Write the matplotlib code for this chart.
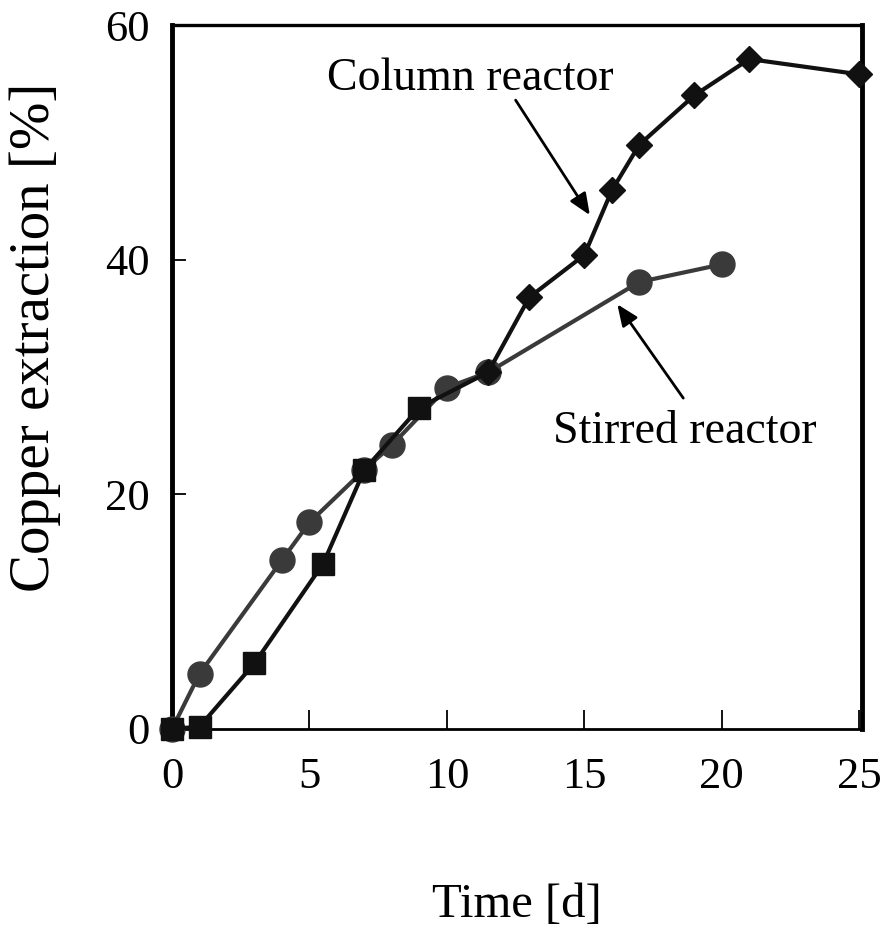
import matplotlib
matplotlib.use("Agg")
import matplotlib.pyplot as plt

# Data
stirred_x = [0, 1, 4, 5, 7, 8, 10, 11.5, 17, 20]
stirred_y = [0, 4.7, 14.4, 17.6, 22.1, 24.2, 29.1, 30.4, 38.1, 39.6]

col_sq_x = [0, 1, 3, 5.5, 7, 9]
col_sq_y = [0, 0.2, 5.6, 14.1, 22.1, 27.4]
col_di_x = [11.5, 13, 15, 16, 17, 19, 21, 25]
col_di_y = [30.4, 36.8, 40.4, 45.9, 49.8, 54.0, 57.1, 55.8]

x_ticks = [0, 5, 10, 15, 20, 25]
y_ticks = [0, 20, 40, 60]

plt.rcParams['font.family'] = ['Liberation Serif', 'DejaVu Serif']

fig = plt.figure(figsize=(8.9, 9.31), dpi=100)
ax = fig.add_axes([0.1933, 0.2170, 0.7752, 0.7561])

stir_col = '#3a3a3a'
col_col = '#111111'

ax.plot(stirred_x, stirred_y, color=stir_col, lw=3, marker='o', ms=18,
        mfc=stir_col, mec=stir_col, clip_on=False, zorder=3)
ax.plot(col_sq_x + col_di_x, col_sq_y + col_di_y, color=col_col, lw=3,
        marker=None, clip_on=False, zorder=4)
ax.plot(col_sq_x, col_sq_y, ls='none', marker='s', ms=16, color=col_col,
        clip_on=False, zorder=5)
ax.plot(col_di_x, col_di_y, ls='none', marker='D', ms=13, color=col_col,
        clip_on=False, zorder=5)

ax.set_xlim(0, 25.1)
ax.set_ylim(0, 60)
ax.set_xticks(x_ticks)
ax.set_yticks(y_ticks)
ax.tick_params(axis='x', direction='in', length=14, width=1.3, pad=20,
               labelsize=32, top=False)
ax.tick_params(axis='y', direction='in', length=10, width=1.3, pad=16,
               labelsize=32, right=False)

for side, w in [('left', 3.5), ('right', 3.5), ('top', 2.4), ('bottom', 2.0)]:
    ax.spines[side].set_linewidth(w)
    ax.spines[side].set_color('black')

ax.set_xlabel('Time [d]', fontsize=35, va='center')
ax.xaxis.set_label_coords(0.5, -0.25)
ax.set_ylabel('Copper extraction [%]', fontsize=41, va='center')
ax.yaxis.set_label_coords(-0.198, 0.557)

arrow_props = dict(arrowstyle='-|>,head_length=1.3,head_width=0.55',
                   color='black', lw=2, shrinkA=0, shrinkB=0)
ax.annotate('', xy=(15.2, 43.8), xytext=(12.5, 53.6), arrowprops=arrow_props)
ax.annotate('', xy=(16.2, 36.2), xytext=(18.6, 28.2), arrowprops=arrow_props)
ax.text(10.84, 55.4, 'Column reactor', fontsize=33, ha='center', va='center')
ax.text(18.65, 25.3, 'Stirred reactor', fontsize=33, ha='center', va='center')

fig.savefig('out.png', dpi=100)
